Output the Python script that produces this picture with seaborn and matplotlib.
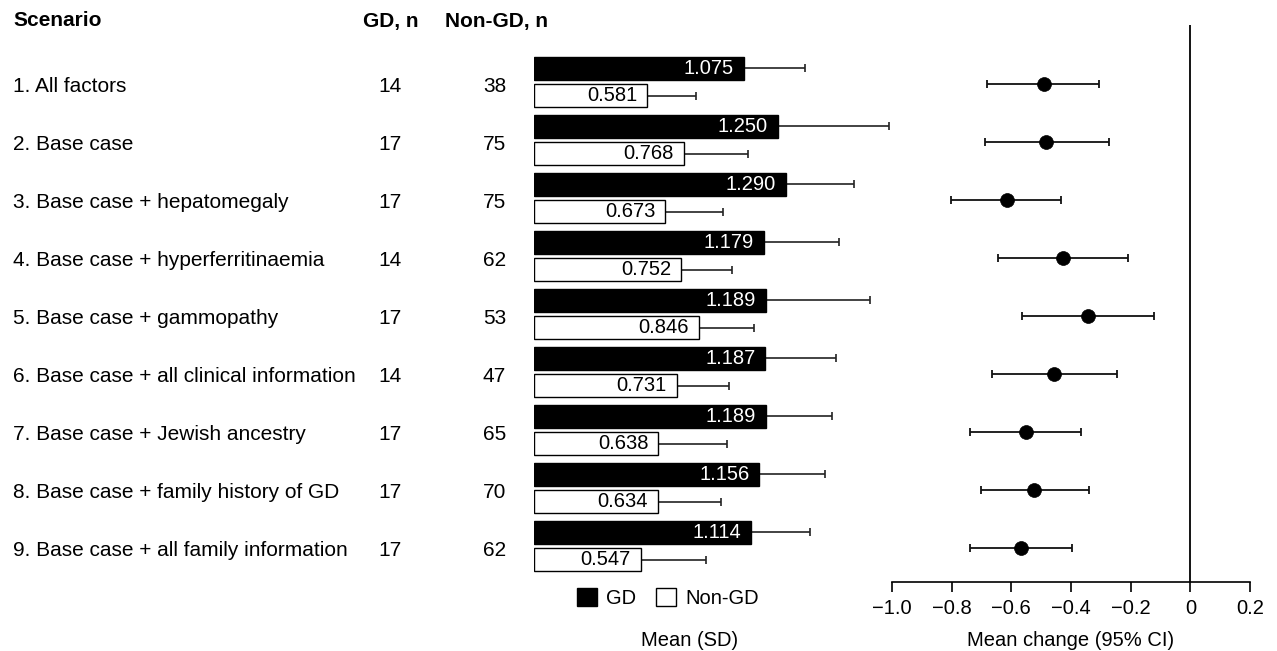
import numpy as np
import pandas as pd
import matplotlib
matplotlib.use("Agg")
import matplotlib.pyplot as plt
import seaborn as sns

# ---- data ----
scenarios = [
    "1. All factors",
    "2. Base case",
    "3. Base case + hepatomegaly",
    "4. Base case + hyperferritinaemia",
    "5. Base case + gammopathy",
    "6. Base case + all clinical information",
    "7. Base case + Jewish ancestry",
    "8. Base case + family history of GD",
    "9. Base case + all family information",
]
gd_n = [14, 17, 17, 14, 17, 14, 17, 17, 17]
non_gd_n = [38, 75, 75, 62, 53, 47, 65, 70, 62]

gd_mean = [1.075, 1.250, 1.290, 1.179, 1.189, 1.187, 1.189, 1.156, 1.114]
gd_sd = [0.313, 0.570, 0.349, 0.383, 0.536, 0.360, 0.339, 0.334, 0.299]
non_gd_mean = [0.581, 0.768, 0.673, 0.752, 0.846, 0.731, 0.638, 0.634, 0.547]
non_gd_sd = [0.250, 0.329, 0.296, 0.265, 0.282, 0.269, 0.350, 0.325, 0.337]

change_mean = [-0.492, -0.483, -0.616, -0.426, -0.344, -0.457, -0.552, -0.523, -0.567]
change_lo = [-0.683, -0.688, -0.802, -0.645, -0.565, -0.665, -0.739, -0.702, -0.738]
change_hi = [-0.305, -0.273, -0.432, -0.210, -0.122, -0.245, -0.367, -0.341, -0.397]

change_ticks = [-1.0, -0.8, -0.6, -0.4, -0.2, 0.0, 0.2]
change_ticklabels = ["\u22121.0", "\u22120.8", "\u22120.6", "\u22120.4", "\u22120.2", "0", "0.2"]

groups = ["GD", "Non-GD"]

# ---- style ----
sns.set_theme(style="white")
plt.rcParams["font.family"] = ["Liberation Sans", "DejaVu Sans"]
plt.rcParams["text.color"] = "black"
plt.rcParams["axes.labelcolor"] = "black"
plt.rcParams["xtick.color"] = "black"
plt.rcParams["ytick.color"] = "black"
FS = 14.5
FS_T = 15.0

W, H = 1277, 651
fig = plt.figure(figsize=(W / 100, H / 100), dpi=100)


def fx(p):
    return p / W


def fy(p):
    return 1 - p / H


top_px, bot_px = 25, 582
row_px = 58.0
first_row_px = 82.0
ymin = -(first_row_px - top_px) / row_px
ymax = ymin + (bot_px - top_px) / row_px
ax_b = fy(bot_px)
ax_h = (bot_px - top_px) / H

# ---- left table ----
ax_t = fig.add_axes([0, ax_b, fx(534), ax_h])
ax_t.set_xlim(0, 534)
ax_t.set_ylim(ymax, ymin)
ax_t.axis("off")
hdr_y = ymin + (21 - top_px) / row_px
ax_t.text(13, hdr_y, "Scenario", fontsize=FS_T, fontweight="bold", ha="left", va="center", clip_on=False)
ax_t.text(391, hdr_y, "GD, n", fontsize=FS_T, fontweight="bold", ha="center", va="center", clip_on=False)
ax_t.text(445, hdr_y, "Non-GD, n", fontsize=FS_T, fontweight="bold", ha="left", va="center", clip_on=False)
txt_off = 5 / row_px
for i, (s, a, b) in enumerate(zip(scenarios, gd_n, non_gd_n)):
    ax_t.text(13, i + txt_off, s, fontsize=FS_T, ha="left", va="center")
    ax_t.text(402, i + txt_off, str(a), fontsize=FS_T, ha="right", va="center")
    ax_t.text(506, i + txt_off, str(b), fontsize=FS_T, ha="right", va="center")

# ---- bar chart: mean (SD) ----
df = pd.DataFrame({
    "scenario": scenarios * 2,
    "group": [groups[0]] * len(scenarios) + [groups[1]] * len(scenarios),
    "mean": gd_mean + non_gd_mean,
})
bar_scale = 195.0  # pixels per unit
ax_m = fig.add_axes([fx(534), ax_b, fx(1.9 * bar_scale), ax_h])
ax_m.patch.set_visible(False)
sns.barplot(
    data=df, y="scenario", x="mean", hue="group", order=scenarios, hue_order=groups,
    palette={"GD": "black", "Non-GD": "white"}, edgecolor="black", linewidth=1.0,
    width=0.95, gap=0.18, orient="h", ax=ax_m, legend=True, zorder=3,
)
sds = {"GD": gd_sd, "Non-GD": non_gd_sd}
txt_col = {"GD": "white", "Non-GD": "black"}
for cont, g in zip(ax_m.containers, groups):
    for rect, sd in zip(cont, sds[g]):
        yc = rect.get_y() + rect.get_height() / 2
        w = rect.get_width()
        ax_m.errorbar(w, yc, xerr=[[0], [sd]], fmt="none", ecolor="#222222",
                      elinewidth=1.2, capsize=3, capthick=1.2, zorder=2)
        ax_m.annotate(f"{w:.3f}", xy=(w, yc), xytext=(-7, 0), textcoords="offset points",
                      ha="right", va="center", fontsize=FS, color=txt_col[g], zorder=4)
ax_m.set_xlim(0, 1.9)
ax_m.set_ylim(ymax, ymin)
ax_m.set_ylabel("")
ax_m.set_yticks([])
ax_m.set_xticks([])
for sp in ax_m.spines.values():
    sp.set_visible(False)
ax_m.set_xlabel("Mean (SD)", fontsize=FS)
ax_m.xaxis.set_label_coords((690 - 534) / (1.9 * bar_scale), -(640 - bot_px) / (bot_px - top_px))
ax_m.xaxis.label.set_va("center")
handles, labels = ax_m.get_legend_handles_labels()
ax_m.legend(handles, labels, ncol=2, frameon=False, fontsize=FS, loc="center",
            bbox_to_anchor=(fx(668), fy(598)), bbox_transform=fig.transFigure,
            handlelength=1.0, handleheight=1.0, handletextpad=0.45, columnspacing=1.0,
            borderpad=0, borderaxespad=0)

# ---- forest plot: mean change (95% CI) ----
ax_f = fig.add_axes([fx(892), ax_b, fx(1250 - 892), ax_h])
ax_f.patch.set_visible(False)
rows = np.arange(len(scenarios))
cm = np.array(change_mean)
ax_f.errorbar(cm, rows + 1.5 / row_px, xerr=[cm - np.array(change_lo), np.array(change_hi) - cm],
              fmt="none", ecolor="#111111", elinewidth=1.3, capsize=3, capthick=1.3, zorder=2)
sns.scatterplot(x=change_mean, y=rows + 1.5 / row_px, color="black", s=100, edgecolor="black",
                linewidth=0.5, ax=ax_f, zorder=3, legend=False)
ax_f.axvline(0, color="black", lw=1.3, zorder=1)
ax_f.set_xlim(change_ticks[0], change_ticks[-1])
ax_f.set_ylim(ymax, ymin)
ax_f.set_yticks([])
ax_f.set_xticks(change_ticks)
ax_f.set_xticklabels(change_ticklabels, fontsize=FS)
ax_f.tick_params(axis="x", direction="out", length=7.2, width=1.2, pad=5, colors="black", bottom=True)
for side in ("top", "right", "left"):
    ax_f.spines[side].set_visible(False)
ax_f.spines["bottom"].set_color("black")
ax_f.spines["bottom"].set_linewidth(1.2)
ax_f.set_xlabel("Mean change (95% CI)", fontsize=FS)
ax_f.xaxis.set_label_coords((1071 - 892) / (1250 - 892), -(640 - bot_px) / (bot_px - top_px))
ax_f.xaxis.label.set_va("center")

fig.savefig("out.png", dpi=100, facecolor="white")
